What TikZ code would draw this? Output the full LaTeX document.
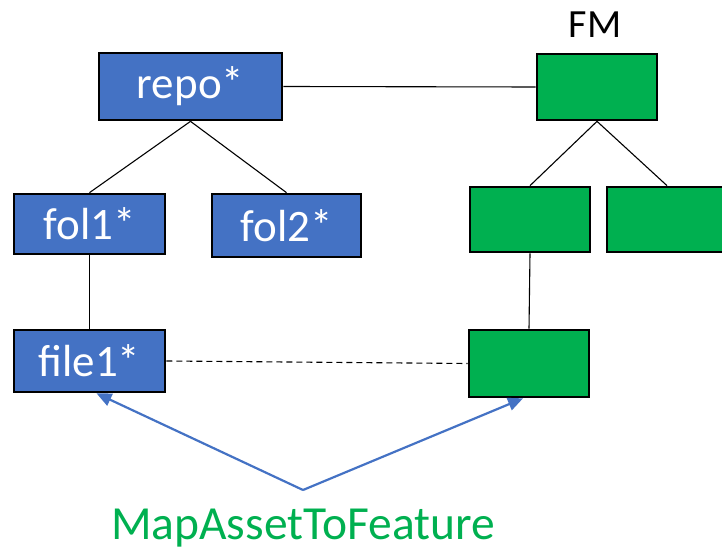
\documentclass[tikz,border=0pt]{standalone}
\usepackage{fontspec}
\setmainfont{Carlito}
\usetikzlibrary{arrows.meta}
\definecolor{assetblue}{HTML}{4472C4}
\definecolor{featgreen}{HTML}{00B050}
\tikzset{
  box/.style={draw=black, line width=2.7pt, inner sep=0pt, text=white,
              font=\fontsize{45}{48}\selectfont},
  asset/.style={box, fill=assetblue},
  feat/.style={box, fill=featgreen},
  link/.style={draw=black, line width=1.1pt},
  mapping/.style={draw=assetblue, line width=2.2pt,
                  -{Triangle[length=15pt,width=13pt]}}
}
\begin{document}
\begin{tikzpicture}[x=1pt,y=-1pt]
  \useasboundingbox (0,0) rectangle (722,553);
  \clip (0,0) rectangle (722,553);

  % asset tree
  \node[asset, minimum width=183, minimum height=67] (repo) at (190.5,86.5) {repo*};
  \node[asset, minimum width=151, minimum height=60] (fol1) at (89.5,224) {fol1*};
  \node[asset, minimum width=149, minimum height=63] (fol2) at (286.5,225.5) {fol2*};
  \node[asset, minimum width=151, minimum height=62] (file1) at (89.5,361) {file1*};

  % feature model
  \node[font=\fontsize{40}{44}\selectfont] (fmlabel) at (595,25) {FM};
  \node[feat, minimum width=120, minimum height=66] (fm) at (597,87) {};
  \node[feat, minimum width=120, minimum height=65] (g1) at (530,219.5) {};
  \node[feat, minimum width=120, minimum height=65] (g2) at (667,219.5) {};
  \node[feat, minimum width=120, minimum height=67] (g3) at (529,363.5) {};

  % tree edges
  \draw[link] (repo.east) -- (fm.west);
  \draw[link] (repo.south) -- (fol1.north);
  \draw[link] (repo.south) -- (fol2.north);
  \draw[link] (fm.south) -- (g1.north);
  \draw[link] (fm.south) -- (g2.north);
  \draw[link] (fol1.south) -- (file1.north);
  \draw[link] (g1.south) -- (g3.north);
  \draw[link, dashed, dash pattern=on 6pt off 4pt] (file1.east) -- (g3.west);

  % mapping arrows
  \coordinate (apex) at (303,490);
  \draw[mapping] (apex) -- ([xshift=7pt]file1.south);
  \draw[mapping] (apex) -- ([xshift=-6pt]g3.south);
  \node[text=featgreen, font=\fontsize{47.5}{50}\selectfont] (maplabel) at (303,528) {MapAssetToFeature};
\end{tikzpicture}
\end{document}
